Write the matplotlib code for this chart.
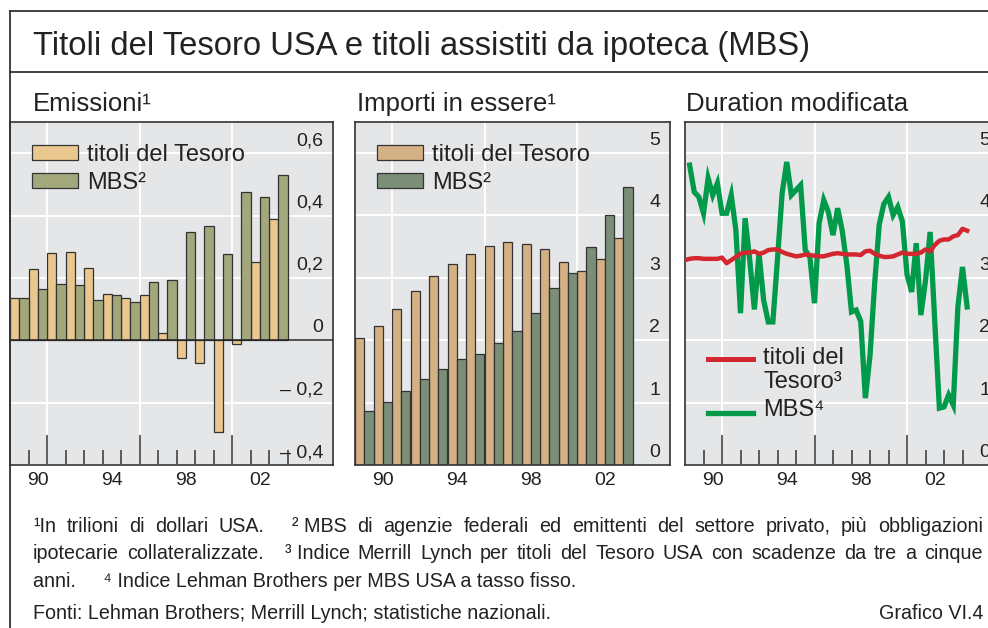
import numpy as np
import matplotlib
matplotlib.use("Agg")
import matplotlib.pyplot as plt
from matplotlib.lines import Line2D
from matplotlib.patches import Rectangle
from matplotlib.transforms import blended_transform_factory, offset_copy

plt.rcParams['font.family'] = ['Liberation Sans', 'DejaVu Sans']

# ---- data ----
years = np.arange(1989, 2004)
year_labels = ['90', '94', '98', '02']
label_years = [1990, 1994, 1998, 2002]

# Emissioni (trilioni di dollari USA)
iss_treasury = [0.136, 0.229, 0.279, 0.283, 0.233, 0.148, 0.137, 0.144,
                0.022, -0.056, -0.072, -0.294, -0.012, 0.252, 0.389]
iss_mbs = [0.136, 0.164, 0.182, 0.176, 0.128, 0.145, 0.123, 0.188,
           0.194, 0.348, 0.365, 0.278, 0.474, 0.460, 0.530]

# Importi in essere (trilioni di dollari USA)
out_treasury = [2.04, 2.23, 2.49, 2.79, 3.03, 3.22, 3.38, 3.51,
                3.57, 3.54, 3.46, 3.25, 3.11, 3.29, 3.63]
out_mbs = [0.86, 1.01, 1.19, 1.38, 1.53, 1.69, 1.78, 1.96,
           2.15, 2.44, 2.83, 3.08, 3.49, 4.00, 4.45]

# Duration modificata, dati trimestrali
quarters_mbs = 1989.25 + 0.25 * np.arange(61)
dur_mbs = [4.80, 4.37, 4.29, 4.03, 4.59, 4.32, 4.51, 4.03, 4.03, 4.32,
           3.76, 2.43, 3.95, 3.28, 2.49, 3.39, 2.64, 2.29, 2.29, 3.30,
           4.35, 4.85, 4.32, 4.40, 4.48, 3.44, 3.33, 2.59, 3.87, 4.24,
           4.05, 3.68, 4.11, 3.75, 3.20, 2.45, 2.48, 2.30, 1.07, 1.75,
           2.90, 3.85, 4.18, 4.29, 4.00, 4.13, 3.90, 3.05, 2.77, 3.55,
           2.40, 2.95, 3.73, 2.30, 0.91, 0.93, 1.12, 0.96, 2.53, 3.17,
           2.53]
quarters_tsy = 1989.0 + 0.25 * np.arange(62)
dur_tsy = [3.28,
           3.30, 3.31, 3.31, 3.30, 3.30, 3.30, 3.30, 3.32, 3.23, 3.28,
           3.33, 3.38, 3.40, 3.40, 3.42, 3.38, 3.40, 3.44, 3.45, 3.45,
           3.41, 3.38, 3.36, 3.34, 3.35, 3.37, 3.36, 3.35, 3.34, 3.34,
           3.36, 3.38, 3.39, 3.38, 3.37, 3.37, 3.37, 3.36, 3.42, 3.43,
           3.38, 3.35, 3.33, 3.33, 3.34, 3.37, 3.40, 3.38, 3.38, 3.38,
           3.40, 3.45, 3.42, 3.52, 3.59, 3.61, 3.61, 3.66, 3.68, 3.78,
           3.75]

# ---- figure ----
W, H = 988, 628
fig = plt.figure(figsize=(W / 100, H / 100), dpi=100)
fig.patch.set_facecolor('white')


def fx(x):
    return x / W


def fy(y):
    return 1 - y / H


bg = '#e5e6e8'
dark = '#333333'
txt = '#222222'
px_year = 18.5
fs_tick = 14
fs_leg = 17

# outer frame
for xs, ys in [([10, W], [11, 11]), ([10, W], [72, 72]), ([10, 10], [11, H])]:
    fig.add_artist(Line2D([fx(v) for v in xs], [fy(v) for v in ys],
                          color=dark, lw=1.3))

fig.text(fx(33), fy(55), 'Titoli del Tesoro USA e titoli assistiti da ipoteca (MBS)',
         fontsize=23.6, va='baseline', color=txt)
fig.text(fx(33), fy(111), 'Emissioni\u00b9', fontsize=18.5, va='baseline', color=txt)
fig.text(fx(357), fy(111), 'Importi in essere\u00b9', fontsize=18.5, va='baseline', color=txt)
fig.text(fx(686), fy(111), 'Duration modificata', fontsize=18.5, va='baseline', color=txt)


def make_ax(left, width, ylim, yticks, ylabels, ticks=True):
    ax = fig.add_axes([fx(left), fy(465), width / W, 343 / H])
    ax.set_facecolor(bg)
    ax.set_xlim(1989, 1989 + width / px_year)
    ax.set_ylim(*ylim)
    for s in ax.spines.values():
        s.set_color(dark)
        s.set_linewidth(1.2)
    ax.set_xticks([1991, 1996, 2001])
    ax.set_xticks([y for y in range(1990, 2005) if y not in (1991, 1996, 2001)], minor=True)
    ax.set_yticks(yticks)
    ax.tick_params(axis='y', length=0, labelleft=False)
    if ticks:
        ax.tick_params(axis='x', which='major', direction='in', length=21.6,
                       width=1.1, color=dark, labelbottom=False)
        ax.tick_params(axis='x', which='minor', direction='in', length=10.8,
                       width=1.1, color=dark, labelbottom=False)
    else:
        ax.tick_params(axis='x', which='both', length=0, labelbottom=False)
    ax.grid(True, which='major', color='white', lw=1.4)
    ax.set_axisbelow(True)
    tr = offset_copy(blended_transform_factory(ax.transAxes, ax.transData),
                     fig=fig, x=-10, y=8, units='dots')
    for v, lab in zip(yticks, ylabels):
        ax.text(1.0, v, lab, transform=tr, ha='right', va='baseline',
                fontsize=fs_tick, color=txt)
    trx = offset_copy(blended_transform_factory(ax.transData, ax.transAxes),
                      fig=fig, x=0, y=-20, units='dots')
    for yv, lab in zip(label_years, year_labels):
        ax.text(yv + 0.5, 0, lab, transform=trx, ha='center', va='baseline',
                fontsize=fs_tick, color=txt)
    return ax


def bar_legend(left, c1, c2, lab2):
    for (y0, c, lab) in [(145, c1, 'titoli del Tesoro'), (173, c2, lab2)]:
        fig.add_artist(Rectangle((fx(left), fy(y0 + 15)), 46 / W, 15 / H,
                                 facecolor=c, edgecolor=dark, lw=0.9,
                                 transform=fig.transFigure))
        fig.text(fx(left + 55), fy(y0 + 15.5), lab, fontsize=fs_leg, va='baseline',
                 color=txt)


# Emissioni
tan1, grn1 = '#e9c78f', '#a2a77c'
ax1 = make_ax(10, 323, (-0.4, 0.70), [0.6, 0.4, 0.2, 0, -0.2, -0.4],
              ['0,6', '0,4', '0,2', '0', '\u2013 0,2', '\u2013 0,4'])
ax1.bar(years + 0.25, iss_treasury, width=0.5, color=tan1, edgecolor=dark, lw=0.9, zorder=2)
ax1.bar(years + 0.75, iss_mbs, width=0.5, color=grn1, edgecolor=dark, lw=0.9, zorder=2)
ax1.axhline(0, color=txt, lw=1.1, zorder=3)
bar_legend(32, tan1, grn1, 'MBS\u00b2')

# Importi in essere
tan2, grn2 = '#d4b085', '#7b8f78'
ax2 = make_ax(355, 315, (0, 5.49), [5, 4, 3, 2, 1, 0],
              ['5', '4', '3', '2', '1', '0'], ticks=False)
ax2.bar(years + 0.25, out_treasury, width=0.5, color=tan2, edgecolor=dark, lw=0.9, zorder=2)
ax2.bar(years + 0.75, out_mbs, width=0.5, color=grn2, edgecolor=dark, lw=0.9, zorder=2)
bar_legend(377, tan2, grn2, 'MBS\u00b2')

# Duration modificata
red, green = '#d2272e', '#009a4a'
ax3 = make_ax(685, 315, (0, 5.49), [5, 4, 3, 2, 1, 0],
              ['5', '4', '3', '2', '1', '0'])
ax3.plot(quarters_mbs, dur_mbs, color=green, lw=3.8, solid_joinstyle='miter', zorder=3)
ax3.plot(quarters_tsy, dur_tsy, color=red, lw=3.2, zorder=4)
fig.add_artist(Line2D([fx(708), fx(753)], [fy(359), fy(359)], color=red, lw=3.6))
fig.add_artist(Line2D([fx(708), fx(753)], [fy(413), fy(413)], color=green, lw=3.8))
fig.text(fx(763), fy(363.5), 'titoli del', fontsize=fs_leg, va='baseline', color=txt)
fig.text(fx(763), fy(388.5), 'Tesoro\u00b3', fontsize=fs_leg, va='baseline', color=txt)
fig.text(fx(763), fy(416.5), 'MBS\u2074', fontsize=fs_leg, va='baseline', color=txt)

# ---- footnotes (justified) ----
fs_note = 14.2
fig.canvas.draw()
renderer = fig.canvas.get_renderer()


def justified(tokens, weights, y, x0=33, x1=983):
    arts = [fig.text(0, fy(y), t, fontsize=fs_note, va='baseline', color=txt)
            for t in tokens]
    widths = [a.get_window_extent(renderer).width for a in arts]
    gap = (x1 - x0 - sum(widths)) / sum(weights)
    x = x0
    for i, a in enumerate(arts):
        a.set_x(fx(x))
        x += widths[i]
        if i < len(weights):
            x += gap * weights[i]


line1 = ['\u00b9In', 'trilioni', 'di', 'dollari', 'USA.', '\u00b2 MBS', 'di', 'agenzie',
         'federali', 'ed', 'emittenti', 'del', 'settore', 'privato,', 'più', 'obbligazioni']
w1 = [1] * (len(line1) - 1)
w1[4] = 2.6
justified(line1, w1, 532)
line2 = ['ipotecarie', 'collateralizzate.', '\u00b3 Indice', 'Merrill', 'Lynch', 'per',
         'titoli', 'del', 'Tesoro', 'USA', 'con', 'scadenze', 'da', 'tre', 'a', 'cinque']
w2 = [1] * (len(line2) - 1)
w2[1] = 2.6
justified(line2, w2, 559)
fig.text(fx(33), fy(587), 'anni.     \u2074 Indice Lehman Brothers per MBS USA a tasso fisso.',
         fontsize=fs_note, va='baseline', color=txt)
fig.text(fx(33), fy(619), 'Fonti: Lehman Brothers; Merrill Lynch; statistiche nazionali.',
         fontsize=fs_note, va='baseline', color=txt)
fig.text(fx(983), fy(619), 'Grafico VI.4', fontsize=fs_note, va='baseline', ha='right',
         color=txt)

fig.savefig('out.png', dpi=100)
